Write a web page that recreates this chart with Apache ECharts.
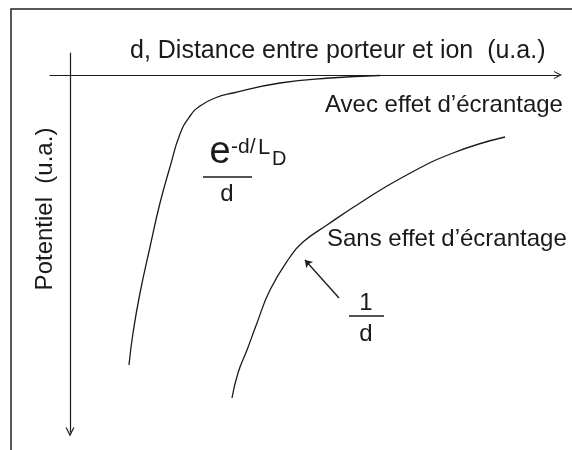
<!DOCTYPE html>
<html>
<head>
<meta charset="utf-8">
<style>
  html, body { margin: 0; padding: 0; background: #fff; }
  #chart { width: 572px; height: 450px; }
</style>
<script src="https://cdn.jsdelivr.net/npm/echarts@6/dist/echarts.min.js"></script>
</head>
<body>
<div id="chart"></div>
<script>
// Curve with screening effect: e^{-d/L_D}/d  [d, potential]
const avecEcrantage = [
  [1.18, 5.80], [1.26, 5.16], [1.40, 4.36], [1.60, 3.44], [1.80, 2.56],
  [2.00, 1.84], [2.20, 1.18], [2.40, 0.82], [2.60, 0.62], [2.90, 0.46],
  [3.26, 0.36], [4.20, 0.16], [5.20, 0.06], [6.20, 0.01]
];
// Curve without screening effect: 1/d
const sansEcrantage = [
  [3.24, 6.46], [3.36, 5.96], [3.54, 5.50], [3.74, 4.96], [4.00, 4.30],
  [4.40, 3.64], [4.66, 3.34], [5.14, 3.00], [5.80, 2.56], [6.66, 2.04],
  [7.66, 1.56], [8.70, 1.24]
];
// Annotation arrow pointing to the 1/d curve
const pointer = [[5.38, 4.46], [4.70, 3.70]];

const xTitle = 'd, Distance entre porteur et ion  (u.a.)';
const yTitle = 'Potentiel  (u.a.)';
const labelAvec = 'Avec effet d\u2019écrantage';
const labelSans = 'Sans effet d\u2019écrantage';

const FONT = '"Liberation Sans", Arial, sans-serif';
const INK = '#1a1a1a';
const arrowUp = 'path://M0,10 L5,0 L10,10 L8.6,10 L5,3 L1.4,10 Z';

const chart = echarts.init(document.getElementById('chart'), null, { renderer: 'canvas' });

chart.setOption({
  backgroundColor: '#fff',
  animation: false,
  grid: { left: 50, right: 14, top: 53, bottom: 18, containLabel: false },
  xAxis: {
    type: 'value', min: -0.4, max: 9.76,
    axisLine: { onZero: true, symbol: ['none', arrowUp], symbolSize: [9, 8],
      lineStyle: { color: INK, width: 1.2 } },
    axisTick: { show: false }, axisLabel: { show: false }, splitLine: { show: false }
  },
  yAxis: {
    type: 'value', min: -0.44, max: 7.14, inverse: true,
    axisLine: { onZero: true, symbol: [arrowUp, 'none'], symbolSize: [9, 10],
      lineStyle: { color: INK, width: 1.2 } },
    axisTick: { show: false }, axisLabel: { show: false }, splitLine: { show: false }
  },
  series: [
    {
      name: 'avec', type: 'line', data: avecEcrantage, smooth: 0.5, showSymbol: false,
      lineStyle: { color: INK, width: 1.3 }
    },
    {
      name: 'sans', type: 'line', data: sansEcrantage, smooth: 0.5, showSymbol: false,
      lineStyle: { color: INK, width: 1.3 }
    },
    {
      name: 'pointer', type: 'lines', coordinateSystem: 'cartesian2d',
      symbol: ['none', 'arrow'], symbolSize: 7,
      lineStyle: { color: INK, width: 1.3, opacity: 1 },
      data: [{ coords: pointer }]
    }
  ],
  graphic: [
    { type: 'rect', shape: { x: 11, y: 9, width: 700, height: 600 },
      style: { fill: 'none', stroke: '#222', lineWidth: 1.5 } },
    { type: 'text', x: 130, y: 51,
      style: { text: xTitle, font: '25px ' + FONT, fill: INK, align: 'left', verticalAlign: 'middle' } },
    { type: 'text', x: 45, y: 209, rotation: Math.PI / 2,
      style: { text: yTitle, font: '24px ' + FONT, fill: INK, align: 'center', verticalAlign: 'middle' } },
    { type: 'text', x: 325, y: 105,
      style: { text: labelAvec, font: '24px ' + FONT, fill: INK, align: 'left', verticalAlign: 'middle' } },
    { type: 'text', x: 327, y: 239,
      style: { text: labelSans, font: '24px ' + FONT, fill: INK, align: 'left', verticalAlign: 'middle' } },
    // e^{-d/L_D} / d
    { type: 'text', x: 220, y: 153,
      style: { text: 'e', font: '38px ' + FONT, fill: INK, align: 'center', verticalAlign: 'middle' } },
    { type: 'text', x: 231, y: 147,
      style: { text: '-d/', font: '21px ' + FONT, fill: INK, align: 'left', verticalAlign: 'middle' } },
    { type: 'text', x: 258, y: 148,
      style: { text: 'L', font: '22px ' + FONT, fill: INK, align: 'left', verticalAlign: 'middle' } },
    { type: 'text', x: 272, y: 159,
      style: { text: 'D', font: '20px ' + FONT, fill: INK, align: 'left', verticalAlign: 'middle' } },
    { type: 'line', shape: { x1: 203, y1: 177, x2: 252, y2: 177 }, style: { stroke: INK, lineWidth: 1.3 } },
    { type: 'text', x: 227, y: 194,
      style: { text: 'd', font: '24px ' + FONT, fill: INK, align: 'center', verticalAlign: 'middle' } },
    // 1 / d
    { type: 'text', x: 366, y: 303,
      style: { text: '1', font: '24px ' + FONT, fill: INK, align: 'center', verticalAlign: 'middle' } },
    { type: 'line', shape: { x1: 349, y1: 316, x2: 384, y2: 316 }, style: { stroke: INK, lineWidth: 1.3 } },
    { type: 'text', x: 366, y: 334,
      style: { text: 'd', font: '24px ' + FONT, fill: INK, align: 'center', verticalAlign: 'middle' } }
  ]
});
</script>
</body>
</html>
